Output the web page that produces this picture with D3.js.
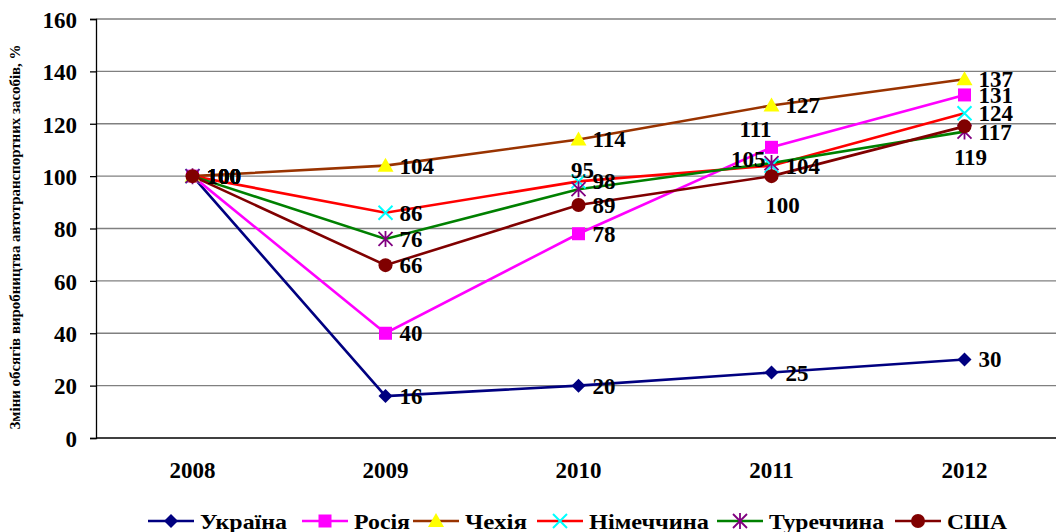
<!DOCTYPE html>
<html>
<head>
<meta charset="utf-8">
<script src="https://cdn.jsdelivr.net/npm/d3@7"></script>
<style>
  body { margin: 0; background: #fff; }
  svg { display: block; }
  svg text { font-family: "Times New Roman", "Liberation Serif", "DejaVu Serif", serif !important; font-weight: bold; fill: #000; }
</style>
</head>
<body>
<svg id="chart" width="1056" height="532"></svg>
<script>
"use strict"

// Data
const years = ["2008", "2009", "2010", "2011", "2012"]
const seriesNames = ["Україна", "Росія", "Чехія", "Німеччина", "Туреччина", "США"]
const ukraine = [100, 16, 20, 25, 30]
const russia = [100, 40, 78, 111, 131]
const czechia = [100, 104, 114, 127, 137]
const germany = [100, 86, 98, 104, 124]
const turkey = [100, 76, 95, 105, 117]
const usa = [100, 66, 89, 100, 119]
const yTicks = [0, 20, 40, 60, 80, 100, 120, 140, 160]

// Styles per series
const styles = [
	{ line: "#000080", fill: "#000080", shape: "diamond" },
	{ line: "#FF00FF", fill: "#FF00FF", shape: "square" },
	{ line: "#993300", fill: "#FFFF00", shape: "triangle" },
	{ line: "#FF0000", fill: "#00FFFF", shape: "cross" },
	{ line: "#008000", fill: "#800080", shape: "star" },
	{ line: "#800000", fill: "#800000", shape: "circle" }
]

// Data label placement that differs from "right"
const labelPlace = {
	"1-3": "aboveLeft",
	"4-2": "above",
	"4-3": "left",
	"5-3": "below",
	"5-4": "below"
}

// Legend layout (line start x, text width)
const legendX = [148, 302, 413, 537, 717, 895]
const legendTextW = [87, 56, 62, 120, 115, 60]

const allValues = [ukraine, russia, czechia, germany, turkey, usa]
const series = seriesNames.map((name, i) => ({ name: name, values: allValues[i], style: styles[i], idx: i }))

const svg = d3.select("#chart")
const margins = { left: 96, top: 19, right: 0, bottom: 94 }
const width = 1061 - margins.left
const height = 532 - margins.top - margins.bottom

const x = d3.scalePoint().domain(years).range([margins.left, margins.left + width]).padding(0.5)
const y = d3.scaleLinear().domain([0, 160]).range([margins.top + height, margins.top])

// Gridlines
svg.append("g")
	.selectAll("line")
	.data(yTicks.filter(d => d > 0))
	.enter().append("line")
	.attr("x1", margins.left).attr("x2", 1056)
	.attr("y1", d => y(d)).attr("y2", d => y(d))
	.attr("stroke", "#808080").attr("stroke-width", 1.3)

// Y axis
const yAxis = d3.axisLeft(y).tickValues(yTicks).tickSize(6).tickPadding(13)
svg.append("g")
	.attr("transform", "translate(" + margins.left + ",0)")
	.call(yAxis)
	.call(g => g.selectAll("path, line").attr("stroke", "#000").attr("stroke-width", 1.3))
	.selectAll("text")
	.attr("dy", "0.36em")
	.style("font-size", "23px")

// X axis baseline
svg.append("line")
	.attr("x1", margins.left).attr("x2", 1056)
	.attr("y1", y(0)).attr("y2", y(0))
	.attr("stroke", "#000").attr("stroke-width", 1.5)

svg.append("g")
	.selectAll("text")
	.data(years)
	.enter().append("text")
	.attr("x", d => x(d))
	.attr("y", y(0) + 40)
	.attr("text-anchor", "middle")
	.style("font-size", "23px")
	.text(d => d)

// Y axis title
svg.append("text")
	.attr("transform", "translate(20," + (margins.top + 218) + ") rotate(-90)")
	.attr("text-anchor", "middle")
	.attr("textLength", 385)
	.attr("lengthAdjust", "spacingAndGlyphs")
	.style("font-size", "14px")
	.text("Зміни обсягів виробництва автотранспортних засобів, %")

// Marker drawing
function drawMarker(g, shape, fill) {
	if (shape === "diamond")
		g.append("path").attr("d", "M0,-7L7,0L0,7L-7,0Z").attr("fill", fill)
	else if (shape === "square")
		g.append("rect").attr("x", -6.5).attr("y", -6.5).attr("width", 13).attr("height", 13).attr("fill", fill)
	else if (shape === "triangle")
		g.append("path").attr("d", "M0,-8L8,6L-8,6Z").attr("fill", fill)
	else if (shape === "circle")
		g.append("circle").attr("r", 7).attr("fill", fill)
	else if (shape === "cross")
		g.append("path").attr("d", "M-7,-7L7,7M-7,7L7,-7").attr("stroke", fill).attr("stroke-width", 2)
	else if (shape === "star")
		g.append("path").attr("d", "M-7,-7L7,7M-7,7L7,-7M0,-8V8").attr("stroke", fill).attr("stroke-width", 1.8)
}

const line = d3.line().x((d, i) => x(years[i])).y(d => y(d))

// Lines
svg.append("g")
	.selectAll("path")
	.data(series)
	.enter().append("path")
	.attr("d", d => line(d.values))
	.attr("fill", "none")
	.attr("stroke", d => d.style.line)
	.attr("stroke-width", 2.6)

// Markers
series.forEach(s => {
	s.values.forEach((v, i) => {
		const g = svg.append("g").attr("transform", "translate(" + x(years[i]) + "," + y(v) + ")")
		drawMarker(g, s.style.shape, s.style.fill)
	})
})

// Data labels
series.forEach(s => {
	s.values.forEach((v, i) => {
		const px = x(years[i]), py = y(v)
		const place = labelPlace[s.idx + "-" + i] || "right"
		let tx = px + 14, ty = py + 8, anchor = "start"
		if (place === "above") { tx = px + 4; ty = py - 11; anchor = "middle" }
		else if (place === "aboveLeft") { tx = px - 16; ty = py - 10; anchor = "middle" }
		else if (place === "left") { tx = px - 6; ty = py + 4; anchor = "end" }
		else if (place === "below") { tx = i === 4 ? px + 6 : px + 11; ty = py + (i === 4 ? 39 : 37); anchor = "middle" }
		svg.append("text")
			.attr("x", tx).attr("y", ty)
			.attr("text-anchor", anchor)
			.style("font-size", "23px")
			.text(v)
	})
})

// Legend
const legend = svg.append("g").attr("transform", "translate(0,521)")
series.forEach((s, i) => {
	const g = legend.append("g").attr("transform", "translate(" + legendX[i] + ",0)")
	g.append("line").attr("x1", 0).attr("x2", 46).attr("y1", 0).attr("y2", 0)
		.attr("stroke", s.style.line).attr("stroke-width", 2.6)
	const m = g.append("g").attr("transform", "translate(23,0)")
	drawMarker(m, s.style.shape, s.style.fill)
	g.append("text").attr("x", 52).attr("y", 8)
		.attr("textLength", legendTextW[i])
		.attr("lengthAdjust", "spacingAndGlyphs")
		.style("font-size", "22px")
		.text(s.name)
})
</script>
</body>
</html>
